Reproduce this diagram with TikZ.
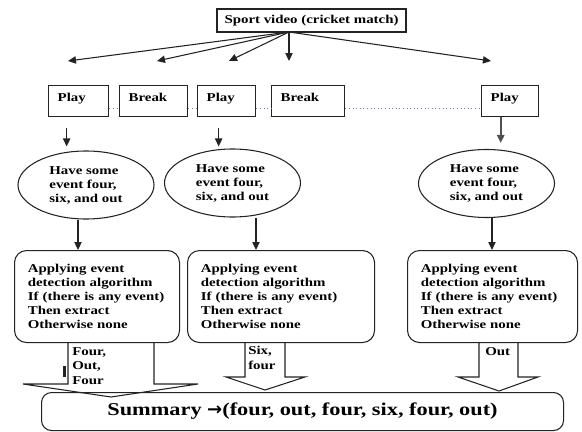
\documentclass[tikz,border=0pt]{standalone}
\usepackage{fontspec}
\setmainfont{Liberation Serif}[FakeStretch=1.24]
\newfontfamily\arrowfont{DejaVu Sans}
\usepackage{tikz}
\usetikzlibrary{arrows.meta,positioning,shapes.geometric,calc}
\definecolor{vLine}{RGB}{35,35,35}
\definecolor{vGray}{RGB}{80,80,80}
\definecolor{vDot}{RGB}{95,125,200}

\begin{document}
\begin{tikzpicture}[
			x=0.75pt,y=-0.75pt,
			every node/.style={font=\bfseries\fontsize{9}{10.5}\selectfont},
			topbox/.style={
				draw=vLine,
				line width=0.9pt,
				minimum width=141.75pt,
				minimum height=17.25pt,
				inner sep=0pt
			},
			seg/.style={
				draw=vLine,
				line width=1pt,
				anchor=north west,
				align=left,
				inner xsep=6.75pt,
				inner ysep=0pt,
				text height=12pt,
				text depth=11.25pt
			},
			evt/.style={
				ellipse,
				draw=vLine,
				line width=0.8pt,
				minimum width=102pt,
				minimum height=51pt,
				inner sep=0pt,
				align=left
			},
			algo/.style={
				draw=vLine,
				line width=0.8pt,
				rounded corners=9pt,
				anchor=north west,
				align=left,
				inner xsep=10pt,
				minimum height=69pt
			},
			lbl/.style={anchor=north west,align=left,inner sep=0pt,font=\bfseries\fontsize{9}{11}\selectfont},
			summ/.style={
				draw=vLine,
				line width=0.8pt,
				rounded corners=7.5pt,
				anchor=north west,
				minimum width=391.5pt,
				minimum height=28.5pt,
				font=\bfseries\fontsize{13.5}{16}\selectfont
			},
			arr/.style={-{Triangle[length=6pt,width=5.5pt]},line width=0.8pt,draw=vLine},
			fat/.style={draw=vLine,line width=0.8pt,line join=miter},
			dotline/.style={draw=vDot,dotted,line width=0.7pt}
			]
			\useasboundingbox (0,0) rectangle (582,432);
			% source
			\node[topbox](video) at (311.5,20.5){Sport video (cricket match)};
			\coordinate (src) at (289,32);
			\coordinate (t1) at (68,61);
			\coordinate (t2) at (157,61);
			\coordinate (t3) at (229,61);
			\coordinate (t4) at (289,61);
			\coordinate (t5) at (491,61);
			\draw[arr](src)--(t1);
			\draw[arr](src)--(t2);
			\draw[arr](src)--(t3);
			\draw[arr](src)--(t4);
			\draw[arr](src)--(t5);
			% play / break segments
			\node[seg,text width=31.5pt](play1) at (48,85){Play};
			\node[seg,text width=37.5pt](brk1) at (119,85){Break};
			\node[seg,text width=30pt](play2) at (197,85){Play};
			\node[seg,text width=41.25pt](brk2) at (271,85){Break};
			\node[seg,text width=29.25pt](play3) at (481,85){Play};
			\draw[dotline]([yshift=-5.6pt]play1.east)--([yshift=-5.6pt]brk1.west);
			\draw[dotline]([yshift=-5.6pt]brk1.east)--([yshift=-5.6pt]play2.west);
			\draw[dotline]([yshift=-5.6pt]play2.east)--([yshift=-5.6pt]brk2.west);
			\draw[dotline]([yshift=-5.6pt]brk2.east)--([yshift=-5.6pt]play3.west);
			% events
			\node[evt](ev1) at (86,185){Have some\\event four,\\six, and out};
			\node[evt](ev2) at (232.5,183){Have some\\event four,\\six, and out};
			\node[evt](ev3) at (486.5,183.5){Have some\\event four,\\six, and out};
			\draw[arr,shorten >=3pt]([xshift=-9pt,yshift=-8.25pt]play1.south)--([xshift=-9pt]play1.south |- ev1.north);
			\draw[arr,shorten >=1.5pt]([xshift=-6pt,yshift=-8.25pt]play2.south)--([xshift=-6pt]play2.south |- ev2.north);
			\draw[arr,draw=vGray,line width=1.4pt,shorten >=4.5pt]([xshift=-7.1pt]play3.south)--([xshift=-7.1pt]play3.south |- ev3.north);
			% detection
			\node[algo,text width=103.75pt](alg1) at (14,250){Applying event\\detection algorithm\\If (there is any event)\\Then extract\\Otherwise none};
			\node[algo,text width=120.25pt](alg2) at (187,250){Applying event\\detection algorithm\\If (there is any event)\\Then extract\\Otherwise none};
			\node[algo,text width=107.5pt](alg3) at (407,250){Applying event\\detection algorithm\\If (there is any event)\\Then extract\\Otherwise none};
			\draw[arr]([xshift=-6pt]ev1.south)--([xshift=-6pt]ev1.south |- alg1.north);
			\draw[arr]([xshift=17.6pt]ev2.south)--([xshift=17.6pt]ev2.south |- alg2.north);
			\draw[arr]([xshift=4.1pt]ev3.south)--([xshift=4.1pt]ev3.south |- alg3.north);
			% summary
			\node[summ](summary) at (41,392){Summary {\arrowfont\bfseries →}(four, out, four, six, four, out)};
			\draw[fat](68,342)--(68,384)--(23,384)--(111,397)--(198,384)--(154,384)--(154,342);
			\draw[fat](245,342)--(245,377)--(226,377)--(265,390)--(305,377)--(285,377)--(285,342);
			\draw[fat](479,342)--(479,377)--(458,377)--(499,391)--(538,377)--(518,377)--(518,342);
			\fill[vLine](63,366) rectangle (66,377);
			\node[lbl](res1) at (72,347){Four,\\Out,\\Four};
			\node[lbl](res2) at (248,346){Six,\\four};
			\node[lbl](res3) at (485,347){Out};
		\end{tikzpicture}
\end{document}
